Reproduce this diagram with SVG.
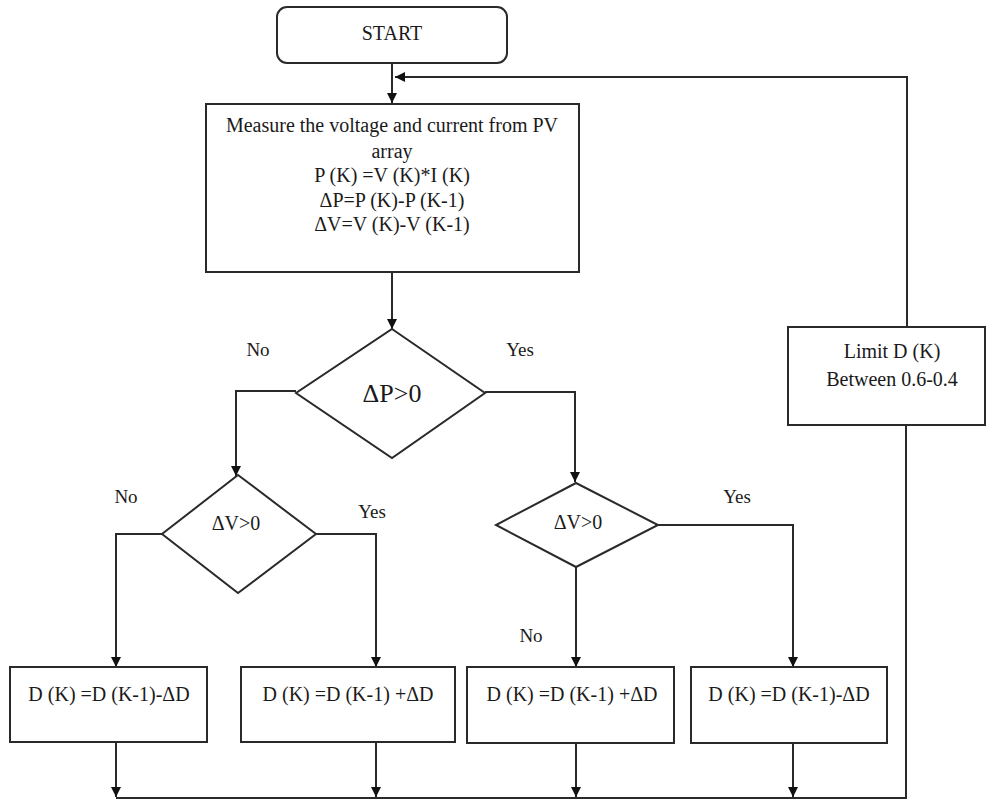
<svg xmlns="http://www.w3.org/2000/svg" width="987" height="800" viewBox="0 0 987 800">
<style>
.box{fill:#fff;stroke:#2a2a2a;stroke-width:2}
.ln{fill:none;stroke:#2a2a2a;stroke-width:2}
text{font-family:'Liberation Serif','DejaVu Serif',serif;fill:#1a1a1a;font-size:20px;text-anchor:middle}
.lbl{font-size:19px}
</style>
<defs>
<marker id="ah" viewBox="0 0 10 10" refX="10" refY="5" markerWidth="10" markerHeight="10" markerUnits="userSpaceOnUse" orient="auto">
<path d="M0,0 L10,5 L0,10 z" fill="#111"/>
</marker>
</defs>
<rect width="987" height="800" fill="#fff"/>
<g id="connectors">
<line class="ln" x1="392" y1="63" x2="392" y2="103" marker-end="url(#ah)"/>
<polyline class="ln" points="907,327 907,77 395,77" marker-end="url(#ah)"/>
<line class="ln" x1="392" y1="272" x2="392" y2="329" marker-end="url(#ah)"/>
<polyline class="ln" points="296,391 236,391 236,476" marker-end="url(#ah)"/>
<polyline class="ln" points="485,392 575,392 575,482" marker-end="url(#ah)"/>
<polyline class="ln" points="162,534 116,534 116,667" marker-end="url(#ah)"/>
<polyline class="ln" points="316,534 376,534 376,667" marker-end="url(#ah)"/>
<line class="ln" x1="576" y1="567" x2="576" y2="667" marker-end="url(#ah)"/>
<polyline class="ln" points="658,525 793,525 793,667" marker-end="url(#ah)"/>
<line class="ln" x1="116" y1="742" x2="116" y2="797" marker-end="url(#ah)"/>
<line class="ln" x1="376" y1="742" x2="376" y2="797" marker-end="url(#ah)"/>
<line class="ln" x1="576" y1="743" x2="576" y2="797" marker-end="url(#ah)"/>
<line class="ln" x1="793" y1="743" x2="793" y2="797" marker-end="url(#ah)"/>
<polyline class="ln" points="116,798 906,798 906,425"/>
</g>
<g id="start">
<rect class="box" x="277" y="7" width="230" height="56" rx="10"/>
<text x="392" y="40">START</text>
</g>
<g id="measure">
<rect class="box" x="206" y="104" width="373" height="168"/>
<text x="392" y="132">Measure the voltage and current from PV</text>
<text x="392" y="158">array</text>
<text x="392" y="182">P (K) =V (K)*I (K)</text>
<text x="392" y="207">ΔP=P (K)-P (K-1)</text>
<text x="392" y="231">ΔV=V (K)-V (K-1)</text>
</g>
<g id="dp">
<polygon class="box" points="392,329 485,393 392,458 296,393"/>
<text x="392" y="402" style="font-size:26px">ΔP&gt;0</text>
<text class="lbl" x="258" y="356">No</text>
<text class="lbl" x="520" y="356">Yes</text>
</g>
<g id="dv1">
<polygon class="box" points="238,475 316,534 238,593 162,534"/>
<text x="236" y="530">ΔV&gt;0</text>
<text class="lbl" x="126" y="503">No</text>
<text class="lbl" x="372" y="518">Yes</text>
</g>
<g id="dv2">
<polygon class="box" points="576,483 658,525 576,567 496,525"/>
<text x="578" y="529">ΔV&gt;0</text>
<text class="lbl" x="737" y="503">Yes</text>
<text class="lbl" x="531" y="642">No</text>
</g>
<g id="limit">
<rect class="box" x="788" y="327" width="197" height="98"/>
<text x="892" y="358">Limit D (K)</text>
<text x="892" y="386">Between 0.6-0.4</text>
</g>
<g id="b1">
<rect class="box" x="10" y="667" width="197" height="75"/>
<text x="109" y="701">D (K) =D (K-1)-ΔD</text>
</g>
<g id="b2">
<rect class="box" x="241" y="667" width="214" height="75"/>
<text x="348" y="701">D (K) =D (K-1) +ΔD</text>
</g>
<g id="b3">
<rect class="box" x="467" y="667" width="207" height="76"/>
<text x="572" y="701">D (K) =D (K-1) +ΔD</text>
</g>
<g id="b4">
<rect class="box" x="691" y="667" width="196" height="76"/>
<text x="789" y="701">D (K) =D (K-1)-ΔD</text>
</g>
</svg>
